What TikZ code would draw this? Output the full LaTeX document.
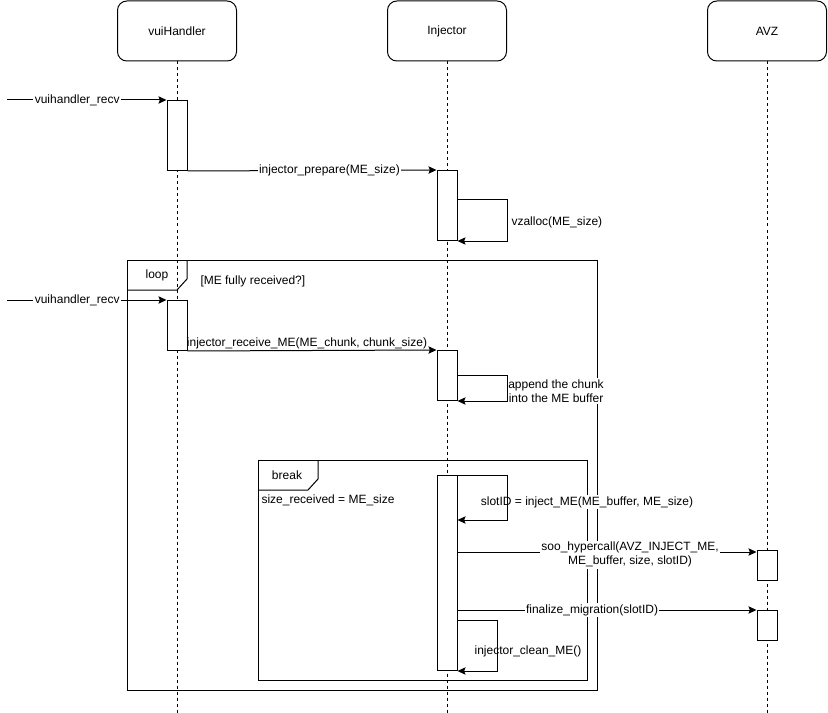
\documentclass[tikz,border=0pt]{standalone}
\usepackage{fontspec}
\setmainfont{Liberation Sans}
\usetikzlibrary{arrows.meta}
\begin{document}
\begin{tikzpicture}[x=0.75pt,y=-0.75pt, line width=0.75pt,
  font=\fontsize{9}{10.5}\selectfont,
  head/.style={draw, rounded corners=7pt, minimum width=89.25pt, minimum height=45pt, fill=white, inner sep=0pt},
  act/.style={draw, fill=white, minimum width=15pt, inner sep=0pt, anchor=north},
  life/.style={dash pattern=on 2.25pt off 2.25pt},
  msg/.style={-{Stealth[length=6pt,width=5.5pt,inset=1pt]}},
  lbl/.style={fill=white, inner sep=1pt},
  plain/.style={inner sep=0pt}]
\useasboundingbox (0,0) rectangle (828,713);

% heads
\node[head] (vh) at (177,31) {vuiHandler};
\node[head] (inj) at (447,31) {Injector};
\node[head] (avz) at (767,31) {AVZ};
\coordinate (vhe) at (177,713);
\coordinate (inje) at (447,713);
\coordinate (avze) at (767,713);
\draw[life] (vh.south) -- (vhe);
\draw[life] (inj.south) -- (inje);
\draw[life] (avz.south) -- (avze);

% loop frame
\draw (127,260) rectangle (597,690);
\draw (127,290) -- (177,290) -- (187,279) -- (187,260);
\node[plain] (looplbl) at (157,275) {loop};
\node[plain, anchor=west] (cond) at (200,281) {[ME fully received?]};

% break frame
\draw (258,460) rectangle (587,680);
\draw (258,490) -- (308,490) -- (318,479) -- (318,460);
\node[plain] (brklbl) at (287,475) {break};
\node[plain, anchor=west] (brkcond) at (261,500) {size\_received = ME\_size};

% activation boxes
\node[act, minimum height=52.5pt] (a1) at (177,100) {};
\node[act, minimum height=52.5pt] (a2) at (447,170) {};
\node[act, minimum height=37.5pt] (a3) at (177,300) {};
\node[act, minimum height=37.5pt] (a4) at (447,350) {};
\node[act, minimum height=146.25pt] (a5) at (447,475) {};
\node[act, minimum height=22.5pt] (a6) at (767,550) {};
\node[act, minimum height=22.5pt] (a7) at (767,610) {};

% messages
\coordinate (s1) at (7,100);
\draw[msg] (s1) -- (a1.north west) node[lbl, pos=0.44] {vuihandler\_recv};
\draw[msg] (a1.south east) -- (a2.north west) node[lbl, pos=0.57] {injector\_prepare(ME\_size)};
\draw[msg] ([yshift=-22.5pt]a2.north east) -- ++(50,0) |- (a2.south east);
\node[plain, anchor=west] (vz) at (511,222) {vzalloc(ME\_size)};

\coordinate (s2) at (7,300);
\draw[msg] (s2) -- (a3.north west) node[lbl, pos=0.44] {vuihandler\_recv};
\draw[msg] (a3.south east) -- (a4.north west) node[plain, pos=0.48, anchor=south, yshift=1pt] {injector\_receive\_ME(ME\_chunk, chunk\_size)};
\node[lbl, align=center] (app) at (556,391) {append the chunk\\into the ME buffer};
\draw[msg] ([yshift=-18.75pt]a4.north east) -- ++(50,0) |- (a4.south east);

\node[lbl] (slot) at (587,502) {slotID = inject\_ME(ME\_buffer, ME\_size)};
\draw[msg] (a5.north east) -- ++(50,0) |- ([yshift=-33.75pt]a5.north east);

\coordinate (h) at ([yshift=-1.5pt]a6.north west);
\draw[msg] (a5.east |- h) -- (h) node[lbl, align=center, pos=0.577, yshift=-2pt] {soo\_hypercall(AVZ\_INJECT\_ME,\\ME\_buffer, size, slotID)};

\draw[msg] (a5.east |- a7.north west) -- (a7.north west) node[lbl, pos=0.45] {finalize\_migration(slotID)};

\node[lbl] (clean) at (528,651) {injector\_clean\_ME()};
\draw[msg] ([yshift=-108.75pt]a5.north east) -- ++(40,0) |- (a5.south east);
\end{tikzpicture}
\end{document}
